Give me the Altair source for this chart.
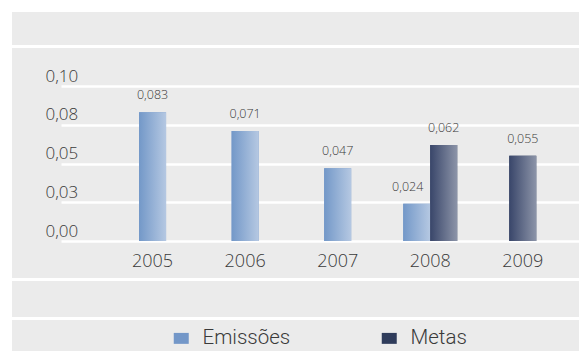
import altair as alt
import pandas as pd

# Values per year and series
years = ["2005", "2006", "2007", "2008", "2008", "2009"]
series = ["Emissões", "Emissões", "Emissões", "Emissões", "Metas", "Metas"]
values = [0.083, 0.071, 0.047, 0.024, 0.062, 0.055]

series_order = ["Emissões", "Metas"]
series_colors = ["#7397C8", "#2F3C5B"]

tick_values = [0, 0.025, 0.05, 0.075, 0.1]
tick_labels = ["0,00", "0,03", "0,05", "0,08", "0,10"]

df = pd.DataFrame({"year": years, "series": series, "value": values})

# label expression mapping each tick to its printed label
expr = f"'{tick_labels[-1]}'"
for i in range(len(tick_values) - 2, -1, -1):
    mid = (tick_values[i] + tick_values[i + 1]) / 2
    expr = f"datum.value < {mid} ? '{tick_labels[i]}' : ({expr})"

FONT = "Open Sans"
LEGEND_FONT = "Roboto"
WEIGHT = 300
TEXT = "#3a3a3a"
W, H = 518, 155
LEFT, TOP = 61, 86
BAR_W = 27

base = (
    alt.Chart(df)
    .transform_joinaggregate(n="count()", groupby=["year"])
    .transform_calculate(
        slot="datum.n == 1 ? 'C' : (datum.series == 'Emissões' ? 'L' : 'R')",
        label="replace(format(datum.value, '.3f'), '.', ',')",
    )
)

x_enc = alt.X(
    "year:N",
    scale=alt.Scale(paddingInner=0, paddingOuter=0.2985, align=0.82),
    axis=alt.Axis(
        title=None, labelAngle=0, domain=False, ticks=False, grid=False,
        labelFontSize=18, labelColor=TEXT, labelFont=FONT, labelFontWeight=WEIGHT,
        labelPadding=11,
    ),
)
# slots half a bar apart: paired bars sit side by side, single bars centred
xo_enc = alt.XOffset(
    "slot:N",
    scale=alt.Scale(domain=["LL", "L", "C", "R", "RR"], paddingInner=0, paddingOuter=0.928),
)
y_enc = alt.Y(
    "value:Q",
    scale=alt.Scale(domain=[0, 0.1], nice=False),
    axis=alt.Axis(
        title=None, values=tick_values, labelExpr=expr, domain=False, ticks=False,
        grid=True, gridColor="white", gridWidth=2.5,
        labelAlign="left", labelPadding=16, labelBaseline="alphabetic", labelOffset=-5,
        labelFontSize=17, labelColor=TEXT, labelFont=FONT, labelFontWeight=WEIGHT,
    ),
)

# solid bars carry the legend
bars = base.mark_bar(width=BAR_W).encode(
    x=x_enc,
    xOffset=xo_enc,
    y=y_enc,
    color=alt.Color(
        "series:N",
        scale=alt.Scale(domain=series_order, range=series_colors),
        legend=alt.Legend(
            title=None, orient="none", legendX=110, legendY=242, direction="horizontal",
            symbolType="M-1,-0.73H1V0.73H-1Z", symbolSize=225, symbolStrokeWidth=0,
            labelFontSize=20.5, labelColor=TEXT, labelFont=LEGEND_FONT,
            labelFontWeight=WEIGHT, labelOffset=11, columnPadding=88,
        ),
    ),
)


def gradient(c0, c1):
    return alt.LinearGradient(
        gradient="linear",
        stops=[alt.GradientStop(color=c0, offset=0), alt.GradientStop(color=c1, offset=1)],
        x1=0, x2=1, y1=0, y2=0,
    )


grad_e = base.transform_filter("datum.series == 'Emissões'").mark_bar(
    width=BAR_W, fill=gradient("#7398C8", "#B5C8E2")
).encode(x=x_enc, xOffset=xo_enc, y=y_enc)

grad_m = base.transform_filter("datum.series == 'Metas'").mark_bar(
    width=BAR_W, fill=gradient("#39466A", "#8C94A8")
).encode(x=x_enc, xOffset=xo_enc, y=y_enc)

# value labels; the left bar of a pair has its label nudged left
label_style = dict(baseline="bottom", dy=-10, fontSize=12.5, color=TEXT, font=FONT,
                   fontWeight=WEIGHT)
labels = base.transform_filter("datum.slot != 'L'").mark_text(**label_style).encode(
    x=x_enc, xOffset=xo_enc, y=y_enc, text="label:N"
)
labels_left = base.transform_filter("datum.slot == 'L'").mark_text(
    dx=-9, **label_style
).encode(x=x_enc, xOffset=xo_enc, y=y_enc, text="label:N")

# frame: white margins and white row separators over the grey panel
one = alt.Data(values=[{}])
margin_top = alt.Chart(one).mark_rect(color="white").encode(
    x=alt.value(-LEFT), x2=alt.value(W), y=alt.value(-TOP), y2=alt.value(12 - TOP)
)
margin_left = alt.Chart(one).mark_rect(color="white").encode(
    x=alt.value(-LEFT), x2=alt.value(12 - LEFT), y=alt.value(-TOP), y2=alt.value(265)
)


def row_line(ypx):
    return alt.Chart(one).mark_rule(color="white", strokeWidth=3).encode(
        x=alt.value(12 - LEFT), x2=alt.value(W), y=alt.value(ypx - TOP)
    )


chart = (
    alt.layer(
        margin_top, margin_left,
        row_line(46.5), row_line(279.5), row_line(318.5),
        bars, grad_e, grad_m, labels, labels_left,
    )
    .properties(
        width=W, height=H,
        autosize=alt.AutoSizeParams(type="none"),
        padding={"left": LEFT, "top": TOP, "right": 0, "bottom": 351 - TOP - H},
        background="#EBEBEB",
    )
    .configure_view(stroke=None)
)

chart.save("out.html", embed_options={"renderer": "svg", "actions": False})
